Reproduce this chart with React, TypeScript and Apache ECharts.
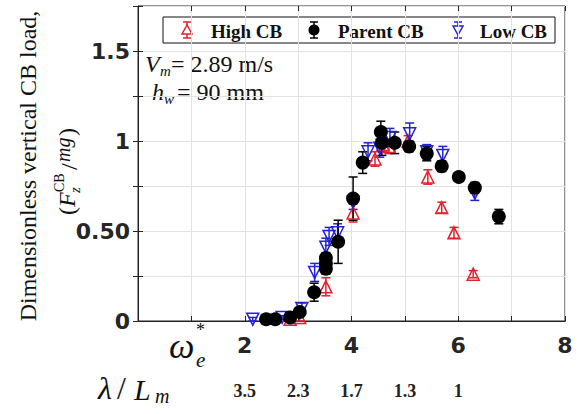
import React, { useEffect, useRef } from "react";
import * as echarts from "echarts";

// Dimensionless wave frequency on the x axis, load on the y axis
const highX = [2.85, 3.03, 3.52, 4.03, 4.44, 4.59, 4.70, 5.06, 5.43, 5.69, 5.92, 6.28];
const highY = [0.01, 0.02, 0.19, 0.60, 0.90, 0.98, 0.97, 1.00, 0.80, 0.63, 0.49, 0.26];
const highErr = [0.01, 0.02, 0.05, 0.05, 0.04, 0.04, 0.04, 0.03, 0.04, 0.03, 0.03, 0.02];

const parentX = [2.40, 2.57, 2.85, 3.03, 3.30, 3.52, 3.52, 3.52, 3.75, 4.03, 4.21, 4.55, 4.57, 4.81, 5.08, 5.41, 5.69, 6.01, 6.31, 6.76];
const parentY = [0.01, 0.01, 0.02, 0.05, 0.16, 0.35, 0.32, 0.29, 0.44, 0.68, 0.88, 1.05, 0.99, 0.99, 0.97, 0.93, 0.86, 0.80, 0.74, 0.58];
const parentErr = [0.01, 0.01, 0.01, 0.02, 0.05, 0.03, 0.03, 0.03, 0.12, 0.12, 0.06, 0.06, 0.07, 0.06, 0.03, 0.04, 0.03, 0.02, 0.03, 0.04];

const lowX = [2.15, 2.70, 3.07, 3.31, 3.52, 3.58, 3.74, 4.03, 4.31, 4.53, 4.72, 5.09, 5.41, 5.71, 6.31];
const lowY = [0.01, 0.02, 0.07, 0.27, 0.41, 0.47, 0.49, 0.66, 0.94, 0.96, 1.02, 1.04, 0.94, 0.92, 0.71];
const lowErr = [0.01, 0.01, 0.03, 0.05, 0.05, 0.05, 0.05, 0.04, 0.05, 0.05, 0.05, 0.06, 0.04, 0.05, 0.04];

// Secondary axis: wavelength ratio at given frequencies
const lambdaTickPos = [2, 3, 4, 5, 6];
const lambdaTickLabels = ["3.5", "2.3", "1.7", "1.3", "1"];

// Y tick labels as printed
const yTickLabels: Record<string, string> = { "0": "0", "0.5": "0.50", "1": "1", "1.5": "1.5" };

const RED = "#e3202b";
const BLUE = "#2323d4";
const BLACK = "#000000";

const SERIF = "'Liberation Serif', 'Times New Roman', serif";
const SANS = "'DejaVu Sans', sans-serif";

function rows(xs: number[], ys: number[], es: number[]) {
  return xs.map((x, i) => [x, ys[i], es[i]]);
}

function errorSeries(name: string, data: number[][], color: string) {
  return {
    type: "custom",
    name: name + " err",
    data,
    encode: { x: 0, y: 1 },
    renderItem: (_p: any, api: any) => {
      const x = api.value(0);
      const y = api.value(1);
      const e = api.value(2);
      const top = api.coord([x, y + e]);
      const bot = api.coord([x, y - e]);
      const hw = 4.5;
      const style = { stroke: color, lineWidth: 1.5 };
      return {
        type: "group",
        children: [
          { type: "line", shape: { x1: top[0], y1: top[1], x2: bot[0], y2: bot[1] }, style },
          { type: "line", shape: { x1: top[0] - hw, y1: top[1], x2: top[0] + hw, y2: top[1] }, style },
          { type: "line", shape: { x1: bot[0] - hw, y1: bot[1], x2: bot[0] + hw, y2: bot[1] }, style },
        ],
      };
    },
  };
}

function legendIcon(cx: number, cy: number, color: string, kind: "up" | "down" | "dot") {
  const style = { stroke: color, lineWidth: 1.5 };
  const children: any[] = [
    { type: "line", shape: { x1: cx, y1: cy - 8, x2: cx, y2: cy + 8 }, style },
    { type: "line", shape: { x1: cx - 4, y1: cy - 8, x2: cx + 4, y2: cy - 8 }, style },
    { type: "line", shape: { x1: cx - 4, y1: cy + 8, x2: cx + 4, y2: cy + 8 }, style },
  ];
  if (kind === "dot") {
    children.push({ type: "circle", shape: { cx, cy, r: 5.5 }, style: { fill: color } });
  } else {
    const s = 5;
    const pts =
      kind === "up"
        ? [[cx, cy - s], [cx + s, cy + s * 0.8], [cx - s, cy + s * 0.8]]
        : [[cx, cy + s], [cx + s, cy - s * 0.8], [cx - s, cy - s * 0.8]];
    children.push({ type: "polygon", shape: { points: pts }, style: { fill: "#fff", stroke: color, lineWidth: 1.5 } });
  }
  return { type: "group", children };
}

function txt(x: number, y: number, text: string, fontSize: number, opts: any = {}) {
  return {
    type: "text",
    x,
    y,
    style: {
      text,
      fontSize,
      fontFamily: opts.fontFamily || SERIF,
      fontStyle: opts.italic ? "italic" : "normal",
      fontWeight: opts.bold ? "bold" : "normal",
      fill: opts.fill || "#111",
      align: opts.align || "left",
      verticalAlign: opts.verticalAlign || "middle",
    },
  };
}

export default function App() {
  const ref = useRef<HTMLDivElement>(null);

  useEffect(() => {
    document.body.style.margin = "0";
    if (!ref.current) return;
    const chart = echarts.init(ref.current, undefined, { renderer: "svg" });

    const gridLine = { show: true, lineStyle: { color: "#e2e2e2", width: 1 } };

    const option: any = {
      animation: false,
      backgroundColor: "#ffffff",
      grid: {
        left: 138,
        right: 19,
        top: 6,
        bottom: 93,
        show: true,
        borderColor: "#222",
        borderWidth: 1,
        backgroundColor: "transparent",
      },
      xAxis: [
        {
          type: "value",
          min: 0,
          max: 8,
          interval: 1,
          position: "bottom",
          axisLine: { show: true, lineStyle: { color: "#222", width: 1 } },
          axisTick: { show: true, inside: true, length: 5, lineStyle: { color: "#222" } },
          splitLine: gridLine,
          axisLabel: {
            margin: 13,
            fontFamily: SANS,
            fontWeight: "bold",
            fontSize: 22,
            color: "#262626",
            formatter: (v: number) => (v > 0 && v % 2 === 0 ? String(v) : ""),
          },
        },
        {
          type: "value",
          min: 0,
          max: 8,
          interval: 1,
          position: "bottom",
          offset: 46,
          axisLine: { show: true, lineStyle: { color: "#222", width: 1 } },
          axisTick: { show: true, inside: true, length: 5, customValues: lambdaTickPos, lineStyle: { color: "#222" } },
          splitLine: { show: false },
          axisLabel: {
            margin: 15,
            fontFamily: SERIF,
            fontWeight: "bold",
            fontSize: 18,
            color: "#222",
            customValues: lambdaTickPos,
            formatter: (v: number) => {
              const i = lambdaTickPos.indexOf(v);
              return i >= 0 ? lambdaTickLabels[i] : "";
            },
          },
        },
        {
          type: "value",
          min: 0,
          max: 8,
          interval: 1,
          position: "top",
          axisLine: { show: false },
          axisTick: { show: true, inside: true, length: 5, lineStyle: { color: "#222" } },
          splitLine: { show: false },
          axisLabel: { show: false },
        },
      ],
      yAxis: [
        {
          type: "value",
          min: 0,
          max: 1.75,
          interval: 0.25,
          axisLine: { show: true, lineStyle: { color: "#222", width: 1 } },
          axisTick: { show: true, inside: true, length: 5, lineStyle: { color: "#222" } },
          splitLine: gridLine,
          axisLabel: {
            margin: 8,
            fontFamily: SANS,
            fontWeight: "bold",
            fontSize: 22,
            color: "#262626",
            formatter: (v: number) => yTickLabels[String(v)] ?? "",
          },
        },
        {
          type: "value",
          min: 0,
          max: 1.75,
          interval: 0.25,
          position: "right",
          axisLine: { show: false },
          axisTick: { show: true, inside: true, length: 5, lineStyle: { color: "#222" } },
          splitLine: { show: false },
          axisLabel: { show: false },
        },
      ],
      series: [
        errorSeries("High CB", rows(highX, highY, highErr), RED),
        {
          type: "scatter",
          name: "High CB",
          data: rows(highX, highY, highErr).map((r) => [r[0], r[1]]),
          symbol: "triangle",
          symbolSize: 12,
          itemStyle: { color: "rgba(255,255,255,0)", borderColor: RED, borderWidth: 1.5, opacity: 1 },
        },
        errorSeries("Low CB", rows(lowX, lowY, lowErr), BLUE),
        {
          type: "scatter",
          name: "Low CB",
          data: rows(lowX, lowY, lowErr).map((r) => [r[0], r[1]]),
          symbol: "triangle",
          symbolRotate: 180,
          symbolSize: 12,
          itemStyle: { color: "rgba(255,255,255,0)", borderColor: BLUE, borderWidth: 1.5, opacity: 1 },
        },
        errorSeries("Parent CB", rows(parentX, parentY, parentErr), BLACK),
        {
          type: "scatter",
          name: "Parent CB",
          data: rows(parentX, parentY, parentErr).map((r) => [r[0], r[1]]),
          symbol: "circle",
          symbolSize: 14,
          itemStyle: { color: BLACK, opacity: 1 },
        },
      ],
      graphic: [
        // legend box
        {
          type: "group",
          z: 100,
          children: [
            { type: "rect", shape: { x: 163, y: 17, width: 392, height: 26 }, style: { fill: "#fff", stroke: "#111", lineWidth: 1 } },
            legendIcon(187, 30, RED, "up"),
            txt(211, 31, "High CB", 19, { bold: true }),
            legendIcon(314, 30, BLACK, "dot"),
            txt(338, 31, "Parent CB", 19, { bold: true }),
            legendIcon(458, 30, BLUE, "down"),
            txt(480, 31, "Low CB", 19, { bold: true }),
          ],
        },
        // flow conditions
        txt(145, 64, "V", 24, { italic: true }),
        txt(160, 71, "m", 15, { italic: true }),
        txt(171, 64, "= 2.89 m/s", 24),
        txt(152, 92, "h", 24, { italic: true }),
        txt(164, 99, "w", 15, { italic: true }),
        txt(177, 92, "= 90 mm", 24),
        // x-axis symbol for the frequency axis
        txt(169, 346, "ω", 36, { italic: true }),
        txt(196, 360, "e", 21, { italic: true }),
        txt(196, 330, "*", 18),
        // x-axis symbol for the wavelength axis
        txt(98, 388, "λ", 32, { italic: true }),
        txt(117, 388, "/", 32),
        txt(134, 389, "L", 30, { italic: true }),
        txt(155, 396, "m", 20, { italic: true }),
        // y-axis title, rotated to read upward
        {
          type: "group",
          x: 28,
          y: 166,
          rotation: Math.PI / 2,
          children: [
            txt(0, 0, "Dimensionless vertical CB load,", 24, { align: "center" }),
            txt(-49, 39, "(", 24),
            txt(-41, 39, "F", 24, { italic: true }),
            txt(-26, 31, "CB", 14),
            txt(-27, 47, "z", 15, { italic: true }),
            txt(-4, 41, "/", 24),
            txt(4, 35, "mg", 20, { italic: true }),
            txt(30, 39, ")", 24),
          ],
        },
      ],
    };

    chart.setOption(option);
    return () => chart.dispose();
  }, []);

  return <div ref={ref} style={{ width: 584, height: 414 }} />;
}
